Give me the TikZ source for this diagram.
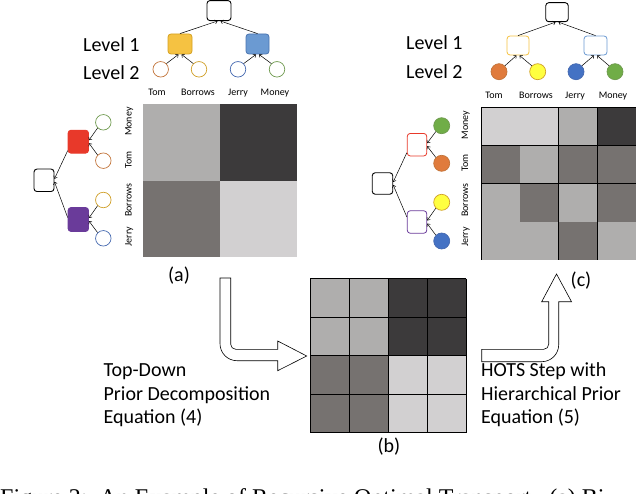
\documentclass[tikz,border=0pt]{standalone}
\usepackage{fontspec}
\setmainfont{Carlito}
\newfontfamily\capfont{Liberation Serif}
\usetikzlibrary{arrows.meta}
\definecolor{cA}{HTML}{AFAEAD}
\definecolor{cB}{HTML}{3C3A3B}
\definecolor{cC}{HTML}{767270}
\definecolor{cD}{HTML}{D2D0D1}
\definecolor{goldf}{HTML}{F5C242}
\definecolor{goldd}{HTML}{D4A020}
\definecolor{bluef}{HTML}{6B9AD2}
\definecolor{blued}{HTML}{4A74B0}
\definecolor{redf}{HTML}{E8392A}
\definecolor{purf}{HTML}{6A3B9A}
\definecolor{tomc}{HTML}{C2743A}
\definecolor{borc}{HTML}{D0A02A}
\definecolor{jerc}{HTML}{4569B0}
\definecolor{monc}{HTML}{6F9A4F}
\definecolor{tomf}{HTML}{E07B3C}
\definecolor{borf}{HTML}{FFFF40}
\definecolor{jerf}{HTML}{4472C4}
\definecolor{monf}{HTML}{70AD47}
\tikzset{
  rootbox/.style={draw=black, line width=0.9pt, rounded corners=3pt, inner sep=0pt, fill=white},
  lvbox/.style={line width=0.8pt, rounded corners=3pt, inner sep=0pt},
  leaf/.style={circle, inner sep=0pt, minimum size=15.5pt, line width=0.7pt},
  lbl/.style={font=\fontsize{10}{10}\selectfont, inner sep=0pt},
  big/.style={font=\fontsize{20}{23.5}\selectfont, inner sep=0pt},
  edge/.style={line width=0.5pt, -{Straight Barb[length=2.2pt,width=4pt]}},
  gridline/.style={line width=0.9pt, black},
  hollow/.style={draw=black, line width=0.6pt, fill=white, line join=miter}
}
\begin{document}
\begin{tikzpicture}[x=1pt,y=-1pt]
\useasboundingbox (0,0) rectangle (636,494);
\clip (0,0) rectangle (636,494);

% ---------- matrix (a)
\fill[cA] (143,104) rectangle (220,181);
\fill[cB] (220,104) rectangle (297,181);
\fill[cC] (143,181) rectangle (220,257);
\fill[cD] (220,181) rectangle (297,257);

% ---------- matrix (b)
\fill[cA] (310,278.5) rectangle (388,355.5);
\fill[cB] (388,278.5) rectangle (466,355.5);
\fill[cC] (310,355.5) rectangle (388,432.5);
\fill[cD] (388,355.5) rectangle (466,432.5);
\foreach \x in {310,349,388,427,466} \draw[gridline] (\x,278.5) -- (\x,432.5);
\foreach \y in {278.5,317,355.5,394,432.5} \draw[gridline] (310,\y) -- (466,\y);

% ---------- matrix (c)
\foreach \i/\j/\c in {0/0/cD,1/0/cD,2/0/cA,3/0/cB,
                      0/1/cC,1/1/cA,2/1/cC,3/1/cC,
                      0/2/cA,1/2/cC,2/2/cA,3/2/cC,
                      0/3/cA,1/3/cA,2/3/cC,3/3/cA}
  \fill[\c] ({481+38.75*\i},{107.3+38.2*\j}) rectangle ({481+38.75*(\i+1)},{107.3+38.2*(\j+1)});
\draw[gridline] (481,107.3) -- (481,260.1);
\draw[gridline] (481,107.3) -- (636,107.3);
\draw[gridline] (481,145.5) -- (636,145.5);
\draw[gridline] (481,183.7) -- (636,183.7);
\draw[gridline] (558.5,107.3) -- (558.5,260.1);
\draw[gridline] (597.25,107.3) -- (597.25,260.1);

% ---------- top-left tree (a)
\node[rootbox, minimum width=24pt, minimum height=20pt] (ra) at (219,10.6) {};
\node[lvbox, draw=goldd, fill=goldf, minimum width=24pt, minimum height=20pt] (oa) at (180,44) {};
\node[lvbox, draw=blued, fill=bluef, minimum width=23pt, minimum height=20pt] (ba) at (257.5,44) {};
\node[leaf, draw=tomc, fill=white] (ta1) at (160.7,69.3) {};
\node[leaf, draw=borc, fill=white] (ta2) at (199,69.3) {};
\node[leaf, draw=jerc, fill=white] (ta3) at (238,69.3) {};
\node[leaf, draw=monc, fill=white] (ta4) at (277,69.3) {};
\draw[edge] (oa.north) -- ([xshift=-1.5pt]ra.south);
\draw[edge] (ba.north) -- ([xshift=1.5pt]ra.south);
\draw[edge] (ta1.north east) -- ([xshift=-1.5pt]oa.south);
\draw[edge] (ta2.north west) -- ([xshift=1.5pt]oa.south);
\draw[edge] (ta3.north east) -- ([xshift=-1.5pt]ba.south);
\draw[edge] (ta4.north west) -- ([xshift=1.5pt]ba.south);
\node[big, anchor=base west] (lva1) at (83,51.5) {Level 1};
\node[big, anchor=base west] (lva2) at (83,79.2) {Level 2};
\node[lbl, anchor=base] (xa1) at (157,96) {Tom};
\node[lbl, anchor=base] (xa2) at (198,96) {Borrows};
\node[lbl, anchor=base] (xa3) at (238,96) {Jerry};
\node[lbl, anchor=base] (xa4) at (275,96) {Money};

% ---------- left tree (a)
\node[rootbox, minimum width=20pt, minimum height=22.5pt] (rl) at (44,180.3) {};
\node[lvbox, draw=redf, fill=redf, minimum width=20.5pt, minimum height=23pt] (rda) at (78.3,141.7) {};
\node[lvbox, draw=purf, fill=purf, minimum width=20.5pt, minimum height=24pt] (pua) at (78.3,219.5) {};
\node[leaf, draw=monc, fill=white] (la1) at (103.3,122.3) {};
\node[leaf, draw=tomc, fill=white] (la2) at (103.3,160.7) {};
\node[leaf, draw=borc, fill=white] (la3) at (103.3,200) {};
\node[leaf, draw=jerc, fill=white] (la4) at (103.3,238.3) {};
\draw[edge] ([yshift=-9pt]rda.west) -- ([yshift=1.5pt]rl.east);
\draw[edge] ([yshift=2pt]pua.west) -- ([yshift=-1.5pt]rl.east);
\draw[edge] (la1.south west) -- ([yshift=1.5pt]rda.east);
\draw[edge] (la2.north west) -- ([yshift=-1.5pt]rda.east);
\draw[edge] (la3.south west) -- ([yshift=1.5pt]pua.east);
\draw[edge] (la4.north west) -- ([yshift=-1.5pt]pua.east);
\node[lbl, rotate=90, anchor=base] (ya1) at (131.5,121.7) {Money};
\node[lbl, rotate=90, anchor=base] (ya2) at (131.5,160) {Tom};
\node[lbl, rotate=90, anchor=base] (ya3) at (131.5,200) {Borrows};
\node[lbl, rotate=90, anchor=base] (ya4) at (131.5,236.7) {Jerry};

% ---------- top-right tree (c)
\node[rootbox, minimum width=22.5pt, minimum height=19pt] (rc) at (557,12.2) {};
\node[lvbox, draw=goldf, fill=white, minimum width=22pt, minimum height=19pt] (oc) at (518,45.5) {};
\node[lvbox, draw=bluef, fill=white, minimum width=23pt, minimum height=19pt] (bc) at (595.5,45.5) {};
\node[leaf, draw=tomc, fill=tomf, minimum size=16pt] (tc1) at (499,71.7) {};
\node[leaf, draw=borc, fill=borf, minimum size=16pt] (tc2) at (537.7,71.7) {};
\node[leaf, draw=jerc, fill=jerf, minimum size=16pt] (tc3) at (576,71.7) {};
\node[leaf, draw=monc, fill=monf, minimum size=16pt] (tc4) at (615,71.7) {};
\draw[edge] (oc.north) -- ([xshift=-1.5pt]rc.south);
\draw[edge] (bc.north) -- ([xshift=1.5pt]rc.south);
\draw[edge] (tc1.north east) -- ([xshift=-1.5pt]oc.south);
\draw[edge] (tc2.north west) -- ([xshift=1.5pt]oc.south);
\draw[edge] (tc3.north east) -- ([xshift=-1.5pt]bc.south);
\draw[edge] (tc4.north west) -- ([xshift=1.5pt]bc.south);
\node[big, anchor=base west] (lvc1) at (406,49.5) {Level 1};
\node[big, anchor=base west] (lvc2) at (406,78.2) {Level 2};
\node[lbl, anchor=base] (xc1) at (494,98.2) {Tom};
\node[lbl, anchor=base] (xc2) at (536,98.2) {Borrows};
\node[lbl, anchor=base] (xc3) at (575,98.2) {Jerry};
\node[lbl, anchor=base] (xc4) at (613,98.2) {Money};

% ---------- left tree (c)
\node[rootbox, minimum width=20.5pt, minimum height=21.5pt] (rm) at (382.5,183.5) {};
\node[lvbox, draw=redf, fill=white, minimum width=19.5pt, minimum height=22.5pt] (rdc) at (417,144.7) {};
\node[lvbox, draw=purf, fill=white, minimum width=19.5pt, minimum height=22.5pt] (puc) at (417,222) {};
\node[leaf, draw=monc, fill=monf, minimum size=16pt] (lc1) at (441.7,125.7) {};
\node[leaf, draw=tomc, fill=tomf, minimum size=16pt] (lc2) at (441.7,163.3) {};
\node[leaf, draw=borc, fill=borf, minimum size=16pt] (lc3) at (441.7,202.3) {};
\node[leaf, draw=jerc, fill=jerf, minimum size=16pt] (lc4) at (441.7,241) {};
\draw[edge] ([yshift=-8pt]rdc.west) -- ([yshift=1.5pt]rm.east);
\draw[edge] ([yshift=5pt]puc.west) -- ([yshift=-1.5pt]rm.east);
\draw[edge] (lc1.south west) -- ([yshift=1.5pt]rdc.east);
\draw[edge] (lc2.north west) -- ([yshift=-1.5pt]rdc.east);
\draw[edge] (lc3.south west) -- ([yshift=1.5pt]puc.east);
\draw[edge] (lc4.north west) -- ([yshift=-1.5pt]puc.east);
\node[lbl, rotate=90, anchor=base] (yc1) at (468.2,125) {Money};
\node[lbl, rotate=90, anchor=base] (yc2) at (468.2,163) {Tom};
\node[lbl, rotate=90, anchor=base] (yc3) at (468.2,200) {Borrows};
\node[lbl, rotate=90, anchor=base] (yc4) at (468.2,237) {Jerry};

% ---------- hollow arrows
\draw[hollow] (220,278) -- (220,343.7) .. controls (220,353.1) and (227.6,360.7) .. (237,360.7)
  -- (277.7,360.7) -- (277.7,370.7) -- (306.7,356) -- (277.7,341) -- (277.7,349.3)
  -- (235.7,349.3) .. controls (233,349.3) and (230.7,347) .. (230.7,344.3) -- (230.7,278) -- cycle;
\draw[hollow] (481.7,349.3) -- (543.7,349.3) .. controls (546.5,349.3) and (548.7,347) .. (548.7,344.3)
  -- (548.7,301.7) -- (541.7,301.7) -- (556.5,274) -- (571.5,301.7) -- (558.7,301.7)
  -- (558.7,344.7) .. controls (558.7,354.1) and (551.1,361.7) .. (541.7,361.7)
  -- (481.7,361.7) -- cycle;

% ---------- texts
\node[big, anchor=base west] (td1) at (103.4,376.5) {Top-Down};
\node[big, anchor=base west] (td2) at (103.4,400) {Prior Decomposition};
\node[big, anchor=base west] (td3) at (103.4,423.2) {Equation (4)};
\node[big, anchor=base west] (hs1) at (481,376.5) {HOTS Step with};
\node[big, anchor=base west] (hs2) at (481,400) {Hierarchical Prior};
\node[big, anchor=base west] (hs3) at (481,423.2) {Equation (5)};
\node[big] (la) at (179,276) {(a)};
\node[big] (lb) at (389,447) {(b)};
\node[big] (lc) at (581,281) {(c)};

% ---------- caption (cut by the lower edge)
\node[anchor=base west, inner sep=0pt, font=\capfont\fontsize{24}{24}\selectfont] (cap) at (0,505)
  {Figure 2:\ \ An Example of Recursive Optimal Transport.\ \ (a) Bi};
\end{tikzpicture}
\end{document}
